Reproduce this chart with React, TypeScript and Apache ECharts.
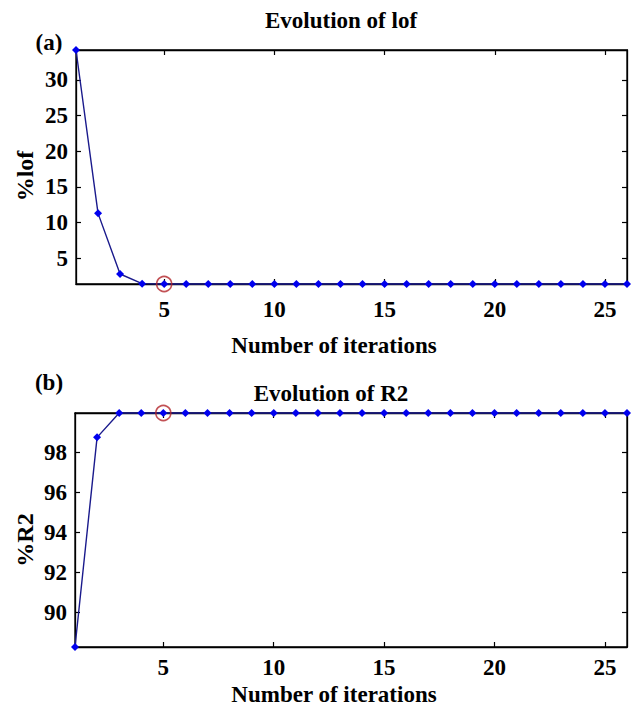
import React, { useEffect, useRef } from "react";
import * as echarts from "echarts";

const iterations = [1, 2, 3, 4, 5, 6, 7, 8, 9, 10, 11, 12, 13, 14, 15, 16, 17, 18, 19, 20, 21, 22, 23, 24, 25, 26];
const lofValues = [34.2, 11.3, 2.8, 1.45, 1.4, 1.4, 1.4, 1.4, 1.4, 1.4, 1.4, 1.4, 1.4, 1.4, 1.4, 1.4, 1.4, 1.4, 1.4, 1.4, 1.4, 1.4, 1.4, 1.4, 1.4, 1.4];
const r2Values = [88.25, 98.75, 99.97, 99.97, 99.97, 99.97, 99.97, 99.97, 99.97, 99.97, 99.97, 99.97, 99.97, 99.97, 99.97, 99.97, 99.97, 99.97, 99.97, 99.97, 99.97, 99.97, 99.97, 99.97, 99.97, 99.97];
const xTicks = [5, 10, 15, 20, 25];
const lofTicks = [5, 10, 15, 20, 25, 30];
const r2Ticks = [90, 92, 94, 96, 98];
const selectedIteration = 5;

const FONT = "'Liberation Serif', 'Times New Roman', serif";
const txt = { fontFamily: FONT, fontWeight: "bold" as const, color: "#000", fontSize: 23 };
const gtxt = { fontFamily: FONT, fontWeight: "bold" as const, fill: "#000", align: "center" as const, verticalAlign: "middle" as const };

export default function App() {
  const ref = useRef<HTMLDivElement>(null);
  useEffect(() => {
    if (!ref.current) return;
    const chart = echarts.init(ref.current, null, { renderer: "svg" });
    const xMin = iterations[0];
    const xMax = iterations[iterations.length - 1];
    const lofMin = Math.min(...lofValues);
    const lofMax = Math.max(...lofValues);
    const r2Min = Math.min(...r2Values);
    const r2Max = Math.max(...r2Values);

    const mkX = (gridIndex: number, position: "bottom" | "top", labels: boolean, margin: number) => ({
      type: "value",
      gridIndex,
      position,
      min: xMin,
      max: xMax,
      axisLine: { show: true, onZero: false, lineStyle: { color: "#000", width: 1.3 } },
      axisTick: { show: true, inside: true, length: 5, customValues: xTicks, lineStyle: { color: "#000", width: 1.2 } },
      axisLabel: { show: labels, customValues: xTicks, margin, ...txt },
      splitLine: { show: false },
    });
    const mkY = (gridIndex: number, position: "left" | "right", labels: boolean, min: number, max: number, ticks: number[]) => ({
      type: "value",
      gridIndex,
      position,
      min,
      max,
      axisLine: { show: true, onZero: false, lineStyle: { color: "#000", width: 1.3 } },
      axisTick: { show: true, inside: true, length: 5, customValues: ticks, lineStyle: { color: "#000", width: 1.2 } },
      axisLabel: { show: labels, customValues: ticks, margin: 8, ...txt },
      splitLine: { show: false },
    });

    const lineSeries = (xAxisIndex: number, yAxisIndex: number, values: number[]) => ({
      type: "line",
      xAxisIndex,
      yAxisIndex,
      data: iterations.map((x, i) => [x, values[i]]),
      symbol: "diamond",
      symbolSize: 8,
      lineStyle: { color: "#1a1a8c", width: 1.4 },
      itemStyle: { color: "#0000ee" },
      clip: false,
      z: 3,
    });
    const ghostSeries = (xAxisIndex: number, yAxisIndex: number, values: number[]) => ({
      type: "line",
      xAxisIndex,
      yAxisIndex,
      data: iterations.map((x, i) => [x, values[i]]),
      symbol: "none",
      silent: true,
      lineStyle: { opacity: 0 },
    });
    const markSeries = (xAxisIndex: number, yAxisIndex: number, values: number[]) => ({
      type: "scatter",
      xAxisIndex,
      yAxisIndex,
      data: [[selectedIteration, values[iterations.indexOf(selectedIteration)]]],
      symbol: "circle",
      symbolSize: 15,
      itemStyle: { color: "rgba(0,0,0,0)", borderColor: "#b3262b", borderWidth: 1.6 },
      clip: false,
      z: 5,
    });

    chart.setOption({
      animation: false,
      backgroundColor: "#fff",
      grid: [
        { left: 76, top: 50, width: 551, height: 234, show: true, borderColor: "#000", borderWidth: 1.3, backgroundColor: "rgba(0,0,0,0)" },
        { left: 75, top: 413, width: 552, height: 234, show: true, borderColor: "#000", borderWidth: 1.3, backgroundColor: "rgba(0,0,0,0)" },
      ],
      xAxis: [mkX(0, "bottom", true, 14), mkX(0, "top", false, 8), mkX(1, "bottom", true, 9), mkX(1, "top", false, 8)],
      yAxis: [
        mkY(0, "left", true, lofMin, lofMax, lofTicks),
        mkY(0, "right", false, lofMin, lofMax, lofTicks),
        mkY(1, "left", true, r2Min, r2Max, r2Ticks),
        mkY(1, "right", false, r2Min, r2Max, r2Ticks),
      ],
      series: [
        ghostSeries(1, 1, lofValues),
        ghostSeries(3, 3, r2Values),
        lineSeries(0, 0, lofValues),
        markSeries(0, 0, lofValues),
        lineSeries(2, 2, r2Values),
        markSeries(2, 2, r2Values),
      ],
      graphic: [
        { type: "text", x: 341, y: 20, style: { text: "Evolution of lof", ...gtxt, fontSize: 23 } },
        { type: "text", x: 49, y: 42, style: { text: "(a)", ...gtxt, fontSize: 23 } },
        { type: "text", x: 334, y: 345, style: { text: "Number of iterations", ...gtxt, fontSize: 23 } },
        { type: "text", x: 25, y: 176, rotation: Math.PI / 2, style: { text: "%lof", ...gtxt, fontSize: 24 } },
        { type: "text", x: 331, y: 393, style: { text: "Evolution of R2", ...gtxt, fontSize: 23 } },
        { type: "text", x: 49, y: 382, style: { text: "(b)", ...gtxt, fontSize: 23 } },
        { type: "text", x: 334, y: 694, style: { text: "Number of iterations", ...gtxt, fontSize: 23 } },
        { type: "text", x: 25, y: 540, rotation: Math.PI / 2, style: { text: "%R2", ...gtxt, fontSize: 24 } },
      ],
    });
    return () => chart.dispose();
  }, []);
  return <div ref={ref} style={{ position: "fixed", left: 0, top: 0, width: 631, height: 706 }} />;
}
